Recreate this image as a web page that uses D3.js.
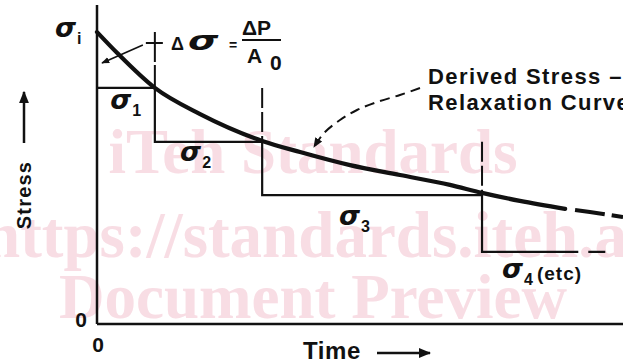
<!DOCTYPE html>
<html><head><meta charset="utf-8">
<script src="https://cdn.jsdelivr.net/npm/d3@7"></script>
<style>
html,body{margin:0;padding:0;background:#fff;overflow:hidden}
svg{display:block}
</style></head>
<body>
<script>
// ---- data (time and stress in arbitrary units) ----
const curveTime   = [0, 0.38, 1.10, 1.96, 3.14, 3.86, 4.81, 5.76, 6.71, 7.32, 8.04, 8.90, 9.37, 10.0];
const curveStress = [9.15, 8.50, 7.40, 6.58, 5.74, 5.39, 4.98, 4.67, 4.36, 4.11, 3.86, 3.61, 3.51, 3.35];
const solidCurveEnd = 8.90;          // curve drawn dashed beyond this time
const stepTimes  = [0, 1.10, 3.14, 7.32];
const stepLevels = [9.15, 7.40, 5.71, 4.04, 2.26];   // sigma_i, sigma_1 .. sigma_4
const stepSub    = ["i", "1", "2", "3", "4"];
const lastStepSolidEnd = 9.15;
const axisMax = 10;
const tickLabels = ["0", "0"];
const watermark = ["iTeh Standards", "https://standards.iteh.ai", "Document Preview"];

const W = 623, H = 364;
const svg = d3.select("body").append("svg").attr("width", W).attr("height", H);
svg.append("rect").attr("width", W).attr("height", H).attr("fill", "#fff");

const x = d3.scaleLinear().domain([0, axisMax]).range([97, 623]);
const y = d3.scaleLinear().domain([0, axisMax]).range([324, 5]);

const INK = "#111";
const SANS = "'Liberation Sans', Arial, sans-serif";
const SERIF = "'Liberation Serif', 'Times New Roman', serif";
const SIG = "'DejaVu Sans', sans-serif";

// ---- watermark ----
const wm = svg.append("g").attr("fill", "#f8dde4").attr("font-family", SERIF).attr("font-weight", "bold");
wm.append("text").attr("x", 313).attr("y", 173).attr("text-anchor", "middle").attr("font-size", 63).text(watermark[0]);
wm.append("text").attr("x", -16).attr("y", 257).attr("font-size", 65).text(watermark[1]);
wm.append("text").attr("x", 313).attr("y", 318).attr("text-anchor", "middle").attr("font-size", 63).text(watermark[2]);

// ---- markers ----
const defs = svg.append("defs");
defs.append("marker").attr("id", "ah").attr("viewBox", "0 0 10 10").attr("refX", 9).attr("refY", 5)
  .attr("markerWidth", 5).attr("markerHeight", 5).attr("orient", "auto-start-reverse").attr("markerUnits", "strokeWidth")
  .append("path").attr("d", "M0,1 L10,5 L0,9 Z").attr("fill", INK);

// ---- axes ----
svg.append("line").attr("x1", x(0)).attr("x2", x(0)).attr("y1", y(axisMax)).attr("y2", y(0))
  .attr("stroke", INK).attr("stroke-width", 2.5);
svg.append("line").attr("x1", x(0)).attr("x2", x(axisMax)).attr("y1", y(0)).attr("y2", y(0))
  .attr("stroke", INK).attr("stroke-width", 2.5);
svg.append("text").attr("x", x(0) - 16).attr("y", y(0) + 3).attr("text-anchor", "middle")
  .attr("font-family", SANS).attr("font-weight", "bold").attr("font-size", 21).attr("fill", INK).text(tickLabels[0]);
svg.append("text").attr("x", x(0) + 1).attr("y", y(0) + 28).attr("text-anchor", "middle")
  .attr("font-family", SANS).attr("font-weight", "bold").attr("font-size", 21).attr("fill", INK).text(tickLabels[1]);

// axis titles
svg.append("text").attr("transform", "translate(31,195) rotate(-90)").attr("text-anchor", "middle")
  .attr("font-family", SANS).attr("font-weight", "bold").attr("font-size", 20).attr("letter-spacing", 1.2)
  .attr("fill", INK).text("Stress");
svg.append("line").attr("x1", 24).attr("x2", 24).attr("y1", 143).attr("y2", 92)
  .attr("stroke", INK).attr("stroke-width", 2.5).attr("marker-end", "url(#ah)");
svg.append("text").attr("x", 303).attr("y", 359)
  .attr("font-family", SANS).attr("font-weight", "bold").attr("font-size", 24).attr("letter-spacing", 0.6)
  .attr("fill", INK).text("Time");
svg.append("line").attr("x1", 377).attr("x2", 430).attr("y1", 353).attr("y2", 353)
  .attr("stroke", INK).attr("stroke-width", 2.5).attr("marker-end", "url(#ah)");

// ---- staircase ----
const stair = [[stepTimes[0], stepLevels[1]]];
for (let i = 1; i < stepTimes.length; i++) {
  stair.push([stepTimes[i], stepLevels[i]]);
  stair.push([stepTimes[i], stepLevels[i + 1]]);
}
stair.push([lastStepSolidEnd, stepLevels[4]]);
const line = d3.line().x(d => x(d[0])).y(d => y(d[1]));
svg.append("path").attr("d", line(stair)).attr("fill", "none").attr("stroke", INK).attr("stroke-width", 2.2);
svg.append("path").attr("d", line([[lastStepSolidEnd, stepLevels[4]], [axisMax, stepLevels[4]]]))
  .attr("fill", "none").attr("stroke", INK).attr("stroke-width", 2.2).attr("stroke-dasharray", "0 10 17 10");

// dashed verticals above each step
for (let i = 1; i < stepTimes.length; i++) {
  svg.append("path").attr("d", line([[stepTimes[i], stepLevels[i - 1]], [stepTimes[i], stepLevels[i]]]))
    .attr("fill", "none").attr("stroke", INK).attr("stroke-width", 2).attr("stroke-dasharray", i === 1 ? "30 3" : "20 4");
}

// ---- relaxation curve ----
const pts = curveTime.map((t, i) => [t, curveStress[i]]);
const smooth = d3.line().x(d => x(d[0])).y(d => y(d[1])).curve(d3.curveMonotoneX);
svg.append("path").attr("d", smooth(pts.filter(p => p[0] <= solidCurveEnd)))
  .attr("fill", "none").attr("stroke", INK).attr("stroke-width", 4.2).attr("stroke-linecap", "round");
svg.append("path").attr("d", smooth(pts.filter(p => p[0] >= solidCurveEnd)))
  .attr("fill", "none").attr("stroke", INK).attr("stroke-width", 4).attr("stroke-dasharray", "0 10 30 7 40");

// ---- sigma labels ----
const sigmaPos = [[-0.8, 9.0], [0.25, 6.75], [1.58, 5.1], [4.6, 3.1], [7.7, 1.45]];
sigmaPos.forEach((p, i) => {
  const g = svg.append("text").attr("x", x(p[0])).attr("y", y(p[1])).attr("fill", INK);
  g.append("tspan").attr("font-family", SIG).attr("font-style", "italic")
    .attr("font-weight", "bold").attr("font-size", 27).text("σ");
  g.append("tspan").attr("font-family", SANS).attr("font-weight", "bold").attr("font-size", 16)
    .attr("dy", 7).attr("dx", 1).text(stepSub[i]);
  if (i === 4) g.append("tspan").attr("font-family", SANS).attr("font-weight", "bold").attr("font-size", 19)
    .attr("letter-spacing", 1).attr("dy", -5).attr("dx", 4).text("(etc)");
});

// ---- delta sigma annotation ----
svg.append("line").attr("x1", x(stepTimes[1]) - 9).attr("x2", x(stepTimes[1]) + 8).attr("y1", 43).attr("y2", 43)
  .attr("stroke", INK).attr("stroke-width", 2);
svg.append("line").attr("x1", x(stepTimes[1]) - 12).attr("x2", 102).attr("y1", 45).attr("y2", 63)
  .attr("stroke", INK).attr("stroke-width", 1.6).attr("marker-end", "url(#ah)");
const ann = svg.append("g").attr("fill", INK).attr("font-family", SANS).attr("font-weight", "bold");
ann.append("text").attr("x", 171).attr("y", 50).attr("font-size", 18).text("Δ");
ann.append("text").attr("transform", "translate(188,50) scale(1.5,1)").attr("font-family", SIG)
  .attr("font-style", "italic").attr("font-size", 26).text("σ");
ann.append("text").attr("x", 229).attr("y", 50).attr("font-size", 14).text("=");
ann.append("text").attr("x", 242).attr("y", 35).attr("font-size", 21).text("ΔP");
svg.append("line").attr("x1", 242).attr("x2", 281).attr("y1", 40).attr("y2", 40).attr("stroke", INK).attr("stroke-width", 2);
ann.append("text").attr("x", 247).attr("y", 63).attr("font-size", 21).text("A");
ann.append("text").attr("x", 270).attr("y", 70).attr("font-size", 21).text("0");

// ---- derived curve label ----
const lab = svg.append("g").attr("fill", INK).attr("font-family", SANS).attr("font-weight", "bold")
  .attr("font-size", 22).attr("letter-spacing", 1.4);
lab.append("text").attr("x", 428).attr("y", 84).text("Derived Stress –");
lab.append("text").attr("x", 428).attr("y", 110).text("Relaxation Curve");
const leader = [[420, 88], [400, 95], [377, 102], [357, 110], [340, 120], [324, 133], [314, 147]];
svg.append("path").attr("d", d3.line().curve(d3.curveCatmullRom)(leader))
  .attr("fill", "none").attr("stroke", INK).attr("stroke-width", 2).attr("stroke-dasharray", "10 6")
  .attr("marker-end", "url(#ah)");
</script>
</body></html>
